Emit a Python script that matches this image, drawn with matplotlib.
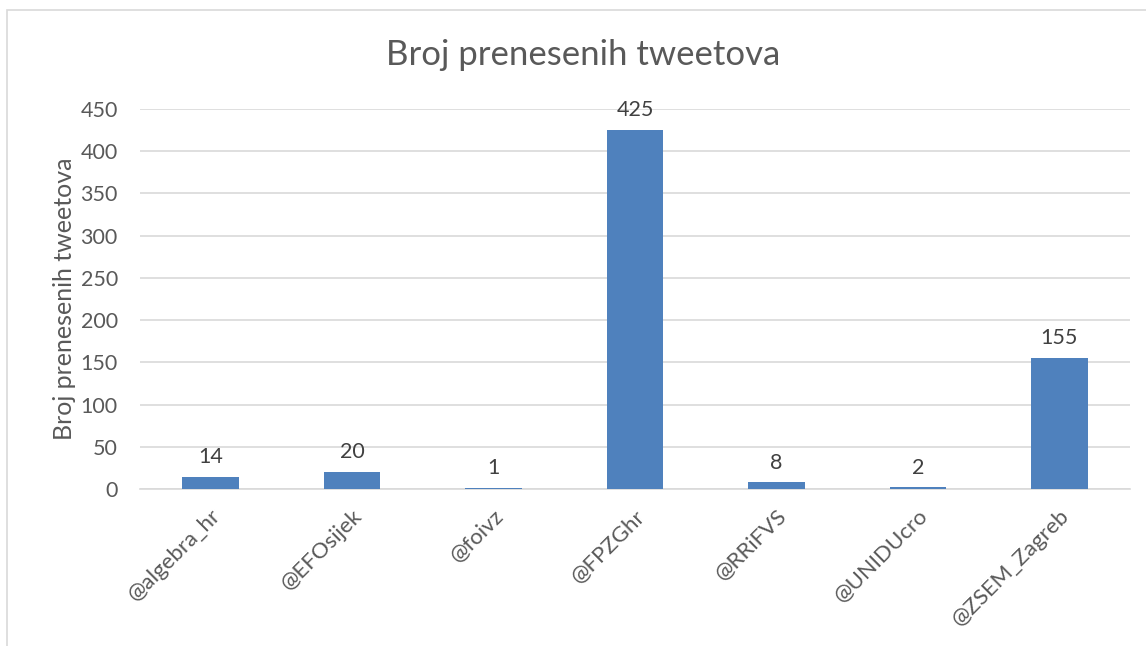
import matplotlib
matplotlib.use("Agg")
import matplotlib.pyplot as plt
from matplotlib.patches import Rectangle

categories = ["@algebra_hr", "@EFOsijek", "@foivz", "@FPZGhr", "@RRiFVS", "@UNIDUcro", "@ZSEM_Zagreb"]
values = [14, 20, 1, 425, 8, 2, 155]
yticks = [0, 50, 100, 150, 200, 250, 300, 350, 400, 450]
title = "Broj prenesenih tweetova"
ylabel = "Broj prenesenih tweetova"

plt.rcParams['font.family'] = ['Lato', 'DejaVu Sans']
txt = '#595959'
W, H = 1146, 646
fig = plt.figure(figsize=(W/100, H/100), dpi=100)
fig.patches.append(Rectangle((7/W, -0.1), 1.2, 1.1 - 10/H, transform=fig.transFigure,
                             fill=False, edgecolor='#d9d9d9', linewidth=1.2))

ax = fig.add_axes([140/W, 1 - 489/H, (1130-140)/W, (489-109)/H])
x = list(range(len(categories)))
ax.bar(x, values, width=0.4, color='#4f81bd', zorder=3)
ax.set_xlim(-0.5, len(categories) - 0.5)
ax.set_ylim(0, 450)
ax.set_yticks(yticks)
ax.set_yticklabels([str(v) for v in yticks], fontsize=15.5, color=txt)
ax.set_xticks(x)
ax.set_xticklabels(categories, rotation=45, ha='right', rotation_mode='anchor',
                   fontsize=16, color=txt)
ax.tick_params(axis='both', length=0)
ax.tick_params(axis='y', pad=16)
ax.tick_params(axis='x', pad=12)
ax.grid(axis='y', color='#d9d9d9', linewidth=1.2, zorder=0)
for s in ['top', 'right', 'left']:
    ax.spines[s].set_visible(False)
ax.spines['bottom'].set_color('#d9d9d9')
ax.spines['bottom'].set_linewidth(1.2)

for xi, v in zip(x, values):
    ax.annotate(str(v), (xi, v), xytext=(0, 7), textcoords='offset points',
                ha='center', va='bottom', fontsize=15.5, color='#404040')

ax.set_ylabel(ylabel, fontsize=18, color=txt, labelpad=3)
fig.text(583/W, 1 - 55/H, title, ha='center', va='center', fontsize=25, color=txt)

fig.savefig("out.png", dpi=100, facecolor='white')
